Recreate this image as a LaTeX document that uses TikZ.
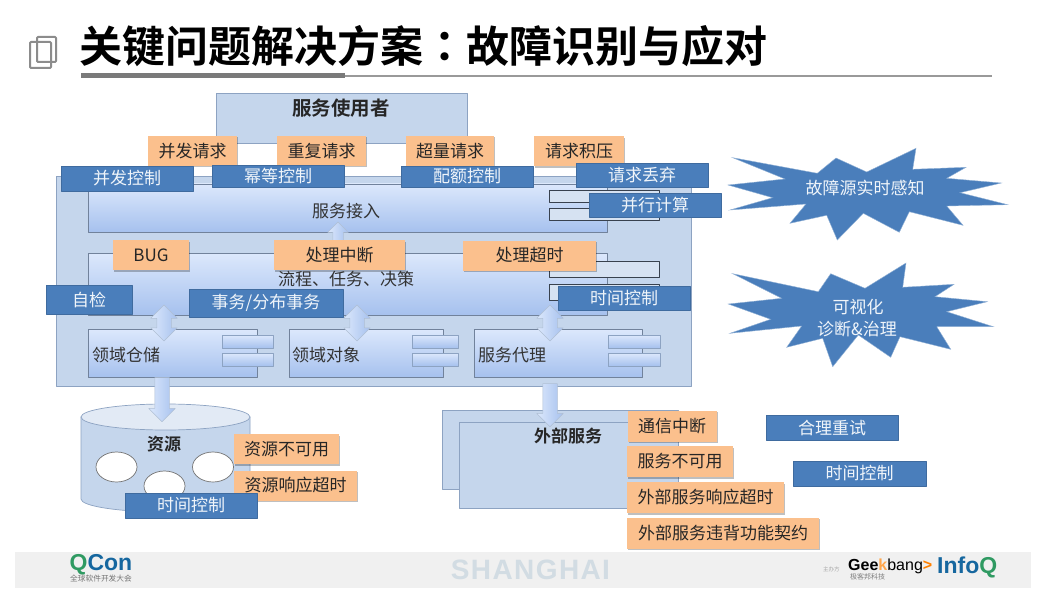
\documentclass[tikz,border=0pt]{standalone}
\usepackage{fontspec}
\setmainfont{Noto Sans CJK SC}[BoldFont={* Bold}]
\newfontfamily\colonfont{Noto Sans CJK TC}[BoldFont={* Bold}]
\newfontfamily\latinfont{Liberation Sans}
\usetikzlibrary{shapes.arrows,shapes.geometric,shadows}
\definecolor{boxblue}{HTML}{C5D6EC}
\definecolor{boxline}{HTML}{8DA3C2}
\definecolor{gradtop}{HTML}{DCE8FC}
\definecolor{gradbot}{HTML}{A6C1EE}
\definecolor{tagblue}{HTML}{4A7EBB}
\definecolor{tagorange}{HTML}{FBC08D}
\definecolor{logoblue}{HTML}{16679F}
\definecolor{logogreen}{HTML}{2F9A62}
\definecolor{cityblue}{HTML}{D2DCE3}
\tikzset{
  panel/.style={draw=boxline, fill=boxblue, line width=.9pt, inner sep=0pt},
  module/.style={draw=boxline!80!black, top color=gradtop, bottom color=gradbot, line width=.9pt, inner sep=0pt},
  slot/.style={draw=black!60!boxline, fill=boxblue!70!white, line width=.9pt, inner sep=0pt},
  port/.style={draw=boxline, top color=gradtop, bottom color=gradbot, line width=.6pt, inner sep=0pt},
  fault/.style={fill=tagorange, text=black!85, inner sep=0pt, font=\fontsize{17}{17}\selectfont,
    drop shadow={shadow xshift=1pt, shadow yshift=-1.5pt, opacity=.25, fill=black}},
  remedy/.style={fill=tagblue, draw=tagblue!85!black, line width=.4pt, text=white!92!tagblue, inner sep=0pt,
    font=\fontsize{17}{17}\selectfont},
  caption/.style={text=black!80, inner sep=0pt, font=\fontsize{17}{17}\selectfont},
  flowdown/.style={single arrow, rotate=-90, draw=boxline!70, left color=gradtop, right color=gradbot,
    inner xsep=0pt, inner ysep=7pt, minimum width=26pt, single arrow head extend=6pt, line width=.5pt},
  flowboth/.style={double arrow, rotate=-90, draw=boxline!70, left color=gradtop, right color=gradbot,
    inner xsep=0pt, inner ysep=7pt, minimum width=26pt, minimum height=36pt, double arrow head extend=6pt, line width=.5pt},
  spark/.style={fill=tagblue, draw=tagblue!60!white, line width=.4pt, line join=miter}
}
\begin{document}
\begin{tikzpicture}[x=1pt, y=-1pt, line join=round]
\useasboundingbox (0,0) rectangle (1053,607);
\fill[white] (0,0) rectangle (1053,607);
% title bar
\node[anchor=west, inner sep=0pt, font=\fontsize{43}{43}\selectfont\bfseries] (title) at (79,46) {关键问题解决方案{\colonfont：}故障识别与应对};
\draw[black!40, line width=1.8pt] (345,76)--(992,76);
\draw[black!52, line width=5pt] (81,76)--(345,76);
\draw[black!45, line width=2pt, rounded corners=1pt] (37,37) rectangle (56,62);
\draw[black!45, line width=2pt, rounded corners=1pt] (30,42) rectangle (51,68);
% footer with logos
\fill[black!6] (15,552) rectangle (1031,588);
\node[inner sep=0pt, font=\fontsize{28}{28}\selectfont\latinfont\bfseries\addfontfeatures{LetterSpace=5}, text=cityblue] (city) at (530.5,570) {SHANGHAI};
\node[inner sep=0pt, anchor=west, font=\fontsize{23}{23}\selectfont\latinfont\bfseries] (qcon) at (69.5,565) {\textcolor{logogreen}{Q}\textcolor{logoblue}{Con}};
\node[inner sep=0pt, anchor=west, text=black!55, font=\fontsize{7.7}{7.7}\selectfont] (qconsub) at (70,579) {全球软件开发大会};
\node[inner sep=0pt, anchor=west, font=\fontsize{16}{16}\selectfont\latinfont] (geek) at (848,566) {\textbf{Gee\textcolor{orange!70}{k}}bang\textcolor{orange}{\textbf{>}}};
\node[inner sep=0pt, anchor=west, text=black!50, font=\fontsize{7}{7}\selectfont] (geeksub) at (850,577) {极客邦科技};
\node[inner sep=0pt, anchor=west, text=black!35, font=\fontsize{5.5}{5.5}\selectfont] (host) at (823,569) {主办方};
\node[inner sep=0pt, anchor=west, font=\fontsize{23}{23}\selectfont\latinfont\bfseries] (infoq) at (937,567) {\textcolor{logoblue}{Info}\textcolor{logogreen}{Q}};
% user box
\node[panel, minimum width=251pt, minimum height=50pt] (user) at (341.5,118) {};
\node[inner sep=0pt, font=\fontsize{19.5}{19.5}\selectfont\bfseries, text=black!85] (usertxt) at (341,108) {服务使用者};
% service body
\node[panel, minimum width=635pt, minimum height=210pt] (body) at (373.5,281) {};
\node[module, minimum width=519pt, minimum height=48pt] (access) at (347.5,208) {};
\node[slot, minimum width=110pt, minimum height=12pt] (slota) at (604,196) {};
\node[slot, minimum width=110pt, minimum height=12pt] (slotb) at (604,214) {};
\node[module, minimum width=519pt, minimum height=62pt] (flow) at (347.5,284) {};
\node[slot, minimum width=110pt, minimum height=16pt] (slotc) at (604,269) {};
\node[slot, minimum width=110pt, minimum height=16pt] (slotd) at (604,292) {};
% three lower modules with their ports
\node[module, minimum width=169pt, minimum height=48pt] (store) at (172.5,353) {};
\node[port, minimum width=51pt, minimum height=13pt] (porta) at (247.5,341.5) {};
\node[port, minimum width=51pt, minimum height=13pt] (portb) at (247.5,359.5) {};
\node[module, minimum width=154pt, minimum height=48pt] (domain) at (366,353) {};
\node[port, minimum width=46pt, minimum height=13pt] (portc) at (435,341.5) {};
\node[port, minimum width=46pt, minimum height=13pt] (portd) at (435,359.5) {};
\node[module, minimum width=168pt, minimum height=48pt] (proxy) at (558,353) {};
\node[port, minimum width=52pt, minimum height=13pt] (porte) at (634,341.5) {};
\node[port, minimum width=52pt, minimum height=13pt] (portf) at (634,359.5) {};
\node[caption, anchor=west] (storetxt) at (92,355) {领域仓储};
\node[caption, anchor=west] (domaintxt) at (292,355) {领域对象};
\node[caption, anchor=west] (proxytxt) at (478,355) {服务代理};
\node[caption] (accesstxt) at (346,211) {服务接入};
% block arrows between layers
\node[flowboth] (arrowa) at (164,323) {};
\node[flowboth] (arrowb) at (357,323) {};
\node[flowboth] (arrowc) at (550,323) {};
\node[flowboth, inner ysep=5pt, minimum width=20pt, minimum height=40pt, double arrow head extend=5pt] (arrowd) at (338,242) {};
% resources
\draw[draw=boxline, fill=boxblue, line width=.7pt] (81,417)--(81,499) arc[start angle=180, end angle=0, x radius=84.5, y radius=13]--(250,417)--cycle;
\draw[draw=boxline, fill=boxblue!50!white, line width=.7pt] (165.5,417) ellipse[x radius=84.5, y radius=13];
\node[flowdown, anchor=tail, minimum height=44pt] (arrowe) at ([xshift=-10.5pt]store.south) {};
\node[inner sep=0pt, font=\fontsize{17}{17}\selectfont\bfseries, text=black!85] (restxt) at (164,444) {资源};
\foreach \name/\cx/\cy in {resa/116.5/467, resb/213/467, resc/164.5/486}
  \node[ellipse, draw=black!55, fill=white, line width=.7pt, minimum width=41pt, minimum height=30pt, inner sep=0pt] (\name) at (\cx,\cy) {};
% external services
\node[panel, minimum width=236pt, minimum height=79pt] (extback) at (560,449.5) {};
\node[panel, minimum width=219pt, minimum height=86pt] (extfront) at (568.5,465) {};
\node[flowdown, anchor=tail, minimum height=43pt] (arrowf) at ([xshift=176.5pt,yshift=3pt]body.south) {};
\node[inner sep=0pt, font=\fontsize{17}{17}\selectfont\bfseries, text=black!85] (exttxt) at (568,436) {外部服务};
% orange fault tags
\foreach \name/\cx/\cy/\w/\txt in {
  fa/192.5/151/89/并发请求, fb/321.5/151/89/重复请求, fc/450/151/88/超量请求, fd/579/151.5/90/请求积压,
  fe/151/255/76/BUG, ff/339.5/255/131/处理中断, fg/529.5/255.5/133/处理超时,
  fh/286.5/449/105/资源不可用, fi/295.5/485.5/123/资源响应超时}
  \node[fault, minimum width=\w pt, minimum height=30pt] (\name) at (\cx,\cy) {\txt};
\foreach \name/\cx/\w/\cy/\txt in {
  fj/672/89/426/通信中断, fk/680/106/461.5/服务不可用, fl/705.5/157/497.5/外部服务响应超时, fm/723/192/533/外部服务违背功能契约}
  \node[fault, minimum width=\w pt, minimum height=31pt] (\name) at (\cx,\cy) {\txt};
\node[caption] (flowtxt) at (346,279) {流程、任务、决策};
% blue remedy tags
\foreach \name/\cx/\cy/\w/\h/\txt in {
  ra/127/178.5/132/25/并发控制, rb/278/176/132/22/幂等控制, rc/467/176.5/132/21/配额控制,
  rd/642/175/132/24/请求丢弃, re/655/205/132/24/并行计算, rf/89/299.5/86/29/自检,
  rg/266/303/154/28/{事务/分布事务}, rh/624/298/132/24/时间控制, ri/191/505.5/132/25/时间控制,
  rj/832/427.5/132/25/合理重试, rk/859.5/473.5/133/25/时间控制}
  \node[remedy, minimum width=\w pt, minimum height=\h pt] (\name) at (\cx,\cy) {\txt};
% warning bursts on the right
\fill[spark] (732.7,157.7)--(817.3,173.3)--(836,158)--(866.7,172)--(916,148.3)--(912.7,169.3)--(966,167.3)--(946.7,178.3)
  --(1001.3,183)--(960,192.7)--(1007.7,204.7)--(946.7,206)--(963,225.3)--(909.3,211.7)--(899.3,232.3)--(863.3,213.3)
  --(837.3,240)--(826.7,215.3)--(790,223.3)--(806,204)--(730,210)--(772.7,197.7)--(728,185)--(785,179)--cycle;
\fill[spark] (732.7,273.7)--(818.3,291.7)--(830.7,273.7)--(865,288.3)--(906,263)--(902.7,287.3)--(954,284.3)--(935,296.7)
  --(987.3,301.7)--(946.7,311.7)--(993.3,326.7)--(936.7,326.7)--(950.7,349.3)--(900,336.7)--(890.7,357.3)--(858.3,335)
  --(832.7,366.7)--(822.7,338.3)--(786.7,347.3)--(801.7,326)--(730,333.3)--(770.7,319.3)--(728.3,304)--(781.7,298.3)--cycle;
\node[inner sep=0pt, text=white!92!tagblue, font=\fontsize{17}{17}\selectfont] (sense) at (865,188) {故障源实时感知};
\node[inner sep=0pt, text=white!92!tagblue, font=\fontsize{17}{17}\selectfont] (viewa) at (858,307) {可视化};
\node[inner sep=0pt, text=white!92!tagblue, font=\fontsize{17}{17}\selectfont] (viewb) at (857,329) {诊断\&治理};
\end{tikzpicture}
\end{document}
